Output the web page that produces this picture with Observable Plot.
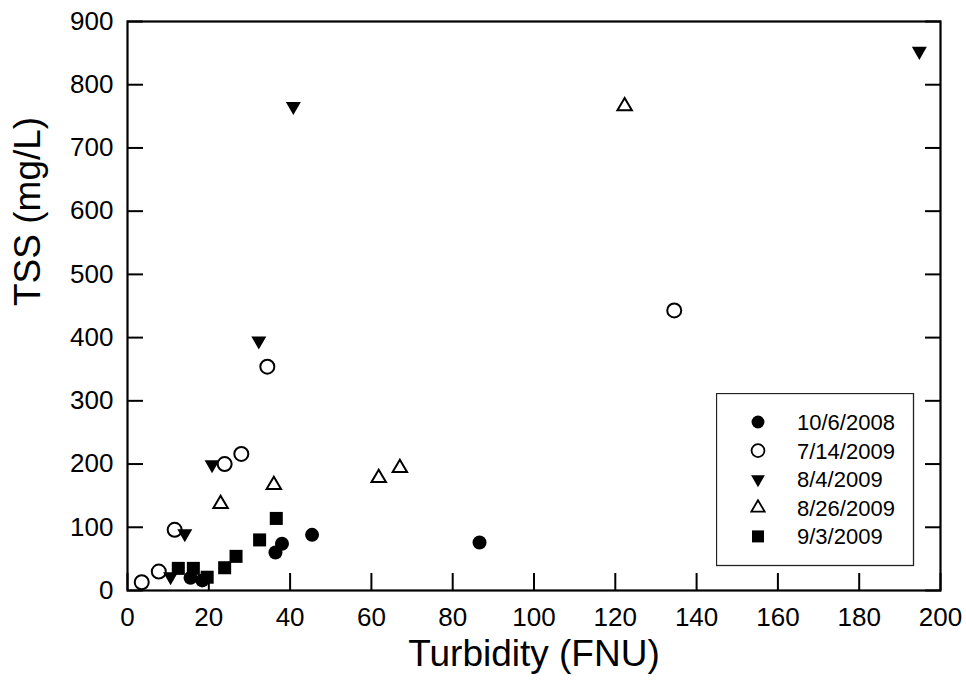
<!DOCTYPE html>
<html><head><meta charset="utf-8">
<script src="https://cdn.jsdelivr.net/npm/d3@7"></script>
<script src="https://cdn.jsdelivr.net/npm/@observablehq/plot@0.6"></script>
<style>
body{margin:0;background:#fff;font-family:"Liberation Sans",Arial,sans-serif}
#chart{position:relative;width:966px;height:694px}
#legend{position:absolute;left:716px;top:393px}
</style>
</head><body><div id="chart"></div>
<script>
// ---- data ----
const seriesNames = ["10/6/2008", "7/14/2009", "8/4/2009", "8/26/2009", "9/3/2009"];
const turb_10_6_2008 = [15.5, 18.4, 36.4, 38.0, 45.4, 86.6];
const tss_10_6_2008  = [20, 16, 60, 74, 88, 76];
const turb_7_14_2009 = [3.5, 7.7, 11.6, 23.9, 28.0, 34.4, 134.5];
const tss_7_14_2009  = [13, 30, 96, 200, 216, 354, 443];
const turb_8_4_2009  = [10.6, 14.1, 20.8, 32.3, 40.8, 194.8];
const tss_8_4_2009   = [22, 90, 199, 395, 766, 853];
const turb_8_26_2009 = [22.9, 36.0, 61.8, 67.0, 122.3];
const tss_8_26_2009  = [137, 167, 178, 194, 766];
const turb_9_3_2009  = [12.5, 16.2, 19.6, 23.9, 26.7, 32.5, 36.6];
const tss_9_3_2009   = [35, 35, 21, 36, 54, 80, 114];
const xTicks = [0, 20, 40, 60, 80, 100, 120, 140, 160, 180, 200];
const yTicks = [0, 100, 200, 300, 400, 500, 600, 700, 800, 900];
const xTitle = "Turbidity (FNU)";
const yTitle = "TSS (mg/L)";

// ---- symbols ----
const symCircle = {draw(ctx, size){ const r = Math.sqrt(size/Math.PI); ctx.moveTo(r,0); ctx.arc(0,0,r,0,2*Math.PI); }};
const symSquare = {draw(ctx, size){ const r = Math.sqrt(size/Math.PI); const s = r*0.93; ctx.rect(-s,-s,2*s,2*s); }};
const symTriDown = {draw(ctx, size){ const r = Math.sqrt(size/Math.PI); const w = r*1.07, h = r*1.86;
  ctx.moveTo(0, 2*h/3); ctx.lineTo(-w, -h/3); ctx.lineTo(w, -h/3); ctx.closePath(); }};
const symTriUp = {draw(ctx, size){ const r = Math.sqrt(size/Math.PI); const w = r*1.03, h = r*1.75;
  ctx.moveTo(0, -2*h/3); ctx.lineTo(-w, h/3); ctx.lineTo(w, h/3); ctx.closePath(); }};

const series = [
  {name: seriesNames[0], x: turb_10_6_2008, y: tss_10_6_2008, symbol: symCircle, fill: "black", stroke: "none"},
  {name: seriesNames[1], x: turb_7_14_2009, y: tss_7_14_2009, symbol: symCircle, fill: "white", stroke: "black"},
  {name: seriesNames[2], x: turb_8_4_2009,  y: tss_8_4_2009,  symbol: symTriDown, fill: "black", stroke: "none"},
  {name: seriesNames[3], x: turb_8_26_2009, y: tss_8_26_2009, symbol: symTriUp, fill: "white", stroke: "black"},
  {name: seriesNames[4], x: turb_9_3_2009,  y: tss_9_3_2009,  symbol: symSquare, fill: "black", stroke: "none"}
];
const R = 7;

const dotMarks = series.map(s => Plot.dot(s.x.map((v,i)=>({x:v, y:s.y[i]})), {
  x: "x", y: "y", r: R, symbol: s.symbol, fill: s.fill, stroke: s.stroke, strokeWidth: 2
}));

const fontSize = 26;
const chart = Plot.plot({
  width: 966, height: 694,
  marginLeft: 127, marginRight: 26, marginTop: 21, marginBottom: 104,
  style: {fontFamily: '"Liberation Sans", Arial, sans-serif', color: "black", background: "white"},
  x: {domain: [0, 200]},
  y: {domain: [0, 900]},
  marks: [
    // tick labels
    Plot.axisX(xTicks, {anchor: "bottom", tickSize: 0, tickPadding: 17, fontSize, label: null, fill: "black"}),
    Plot.axisY(yTicks, {anchor: "left", tickSize: 0, tickPadding: 14, fontSize, label: null, fill: "black"}),
    // inward ticks
    Plot.axisX(xTicks, {anchor: "bottom", tickSize: 17, dy: -17, tickFormat: () => "", label: null, strokeWidth: 2, stroke: "black"}),
    Plot.axisY(yTicks, {anchor: "left", tickSize: 16, dx: 16, tickFormat: () => "", label: null, strokeWidth: 2, stroke: "black"}),
    Plot.axisY(yTicks, {anchor: "right", tickSize: 16, dx: -16, tickFormat: () => "", label: null, strokeWidth: 2, stroke: "black"}),
    ...dotMarks,
    Plot.frame({stroke: "black", strokeWidth: 2.2}),
    Plot.text([xTitle], {frameAnchor: "bottom", dy: 75, fontSize: 37, fill: "black"}),
    Plot.text([yTitle], {frameAnchor: "left", rotate: -90, dx: -99, fontSize: 37, fill: "black"})
  ]
});
document.getElementById("chart").appendChild(chart);

// ---- legend ----
const lw = 197, lh = 172, rowY0 = 29, rowDy = 28.6;
const leg = d3.select("#chart").append("svg").attr("id","legend").attr("width", lw+2).attr("height", lh+2);
leg.append("rect").attr("x",0.5).attr("y",0.5).attr("width",lw).attr("height",lh)
  .attr("fill","white").attr("stroke","#222").attr("stroke-width",1.3);
series.forEach((s,i) => {
  const g = leg.append("g").attr("transform", `translate(0,${rowY0 + i*rowDy})`);
  g.append("path").attr("transform","translate(42,0)")
    .attr("d", d3.symbol().type(s.symbol).size(Math.PI*R*R*0.85)())
    .attr("fill", s.fill).attr("stroke", s.stroke).attr("stroke-width", 1.8);
  g.append("text").attr("x", 81).attr("y", 0).attr("dy","0.36em")
    .attr("font-size", 22).attr("font-family",'"Liberation Sans", Arial, sans-serif').text(s.name);
});
</script>
</body></html>
